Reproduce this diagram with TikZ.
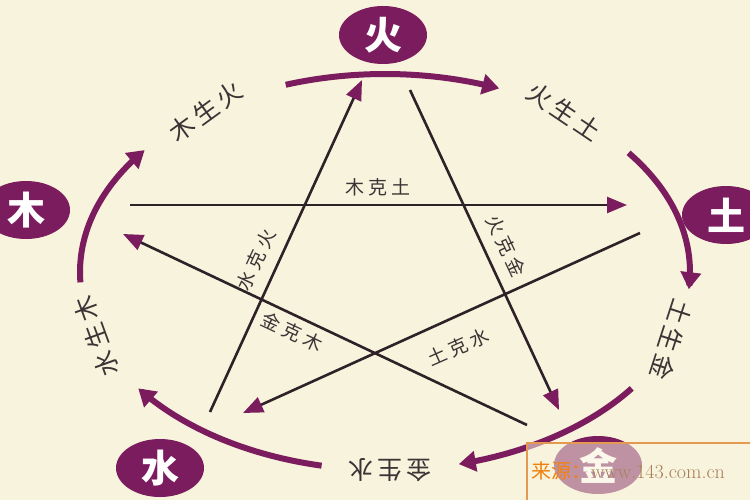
\documentclass[tikz,border=0pt]{standalone}
\usepackage{fontspec}
\newfontfamily\cjk{Noto Sans CJK SC}
\usetikzlibrary{arrows.meta,shapes.geometric}
\definecolor{bg}{HTML}{F8F3DC}
\definecolor{plum}{HTML}{7B1C5E}
\definecolor{ink}{HTML}{2E2228}
\definecolor{txt}{HTML}{3A3436}
\newcommand{\gs}{\hspace{4pt}}
\tikzset{
  elem/.style={ellipse,fill=plum,minimum width=88pt,minimum height=58pt,inner sep=0pt,text=white,font=\cjk\bfseries\fontsize{38}{38}\selectfont},
  gen/.style={draw=plum,line width=6pt,-{Triangle[length=17pt,width=20pt]}},
  ke/.style={draw=ink,line width=2.6pt,-{Triangle[length=20pt,width=16pt,fill=plum,color=plum]}},
  glabel/.style={text=txt,font=\cjk\fontsize{25}{25}\selectfont,inner sep=0pt},
  klabel/.style={text=txt,font=\cjk\fontsize{19}{19}\selectfont,inner sep=0pt},
}
\begin{document}
\begin{tikzpicture}[x=1pt,y=-1pt]
\fill[bg] (0,0) rectangle (750,500);
\useasboundingbox (0,0) rectangle (750,500);
\begin{scope}
\clip (0,0) rectangle (750,500);
% generating arcs
\draw[gen] plot[domain=109:68,samples=40] ({385+305*cos(\x)},{272-198*sin(\x)});
\draw[gen] plot[domain=37:-5,samples=40] ({385+305*cos(\x)},{272-198*sin(\x)});
\draw[gen] plot[domain=-36:-76,samples=40] ({385+305*cos(\x)},{272-198*sin(\x)});
\draw[gen] plot[domain=-102:-144,samples=40] ({385+305*cos(\x)},{272-198*sin(\x)});
\draw[gen] plot[domain=183:142,samples=40] ({385+305*cos(\x)},{272-198*sin(\x)});
% arc labels
\node[glabel,rotate=36] (l1) at ({385+305*cos(126)},{272-198*sin(126)}) {木\gs 生\gs 火};
\node[glabel,rotate=-34] (l2) at ({385+305*cos(54)},{272-198*sin(54)}) {火\gs 生\gs 土};
\node[glabel,rotate=-108] (l3) at ({385+305*cos(-20)},{272-198*sin(-20)}) {土\gs 生\gs 金};
\node[glabel,rotate=180] (l4) at ({385+305*cos(-89)},{272-198*sin(-89)}) {金\gs 生\gs 水};
\node[glabel,rotate=110] (l5) at ({385+305*cos(-161)},{272-198*sin(-161)}) {水\gs 生\gs 木};
% star
\coordinate (a1) at (130,205); \coordinate (b1) at (627,205);
\coordinate (a2) at (210,412); \coordinate (b2) at (362,80);
\coordinate (a3) at (410,90);  \coordinate (b3) at (559,410);
\coordinate (a4) at (640,233); \coordinate (b4) at (243,413);
\coordinate (a5) at (527,425); \coordinate (b5) at (123,234);
\draw[ke] (a1) -- (b1);
\draw[ke] (a2) -- (b2);
\draw[ke] (a3) -- (b3);
\draw[ke] (a4) -- (b4);
\draw[ke] (a5) -- (b5);
\node[klabel] (k1) at (378,187) {木\gs 克\gs 土};
\node[klabel,rotate=65] (k2) at (256,260) {水\gs 克\gs 火};
\node[klabel,rotate=-65] (k3) at (506,246) {火\gs 克\gs 金};
\node[klabel,rotate=-25] (k4) at (292,332) {金\gs 克\gs 木};
\node[klabel,rotate=24] (k5) at (458,347) {土\gs 克\gs 水};
% elements
\node[elem] (huo) at (383,35) {火};
\node[elem] (mu) at (26,210) {木};
\node[elem] (tu) at (726,215) {土};
\node[elem] (shui) at (160,468) {水};
\node[elem] (jin) at (598,465) {金};
% watermark
\draw[draw=brown!55!orange!80,line width=2.5pt,fill=bg,fill opacity=0.55] (527,443) rectangle (760,505);
\node[anchor=west,inner sep=0pt,font=\fontsize{20}{20}\selectfont] (wm) at (531,471) {{\cjk\color{orange!80!brown}来源：}{\color{brown!60!gray}www.143.com.cn}};
\end{scope}
\end{tikzpicture}
\end{document}
